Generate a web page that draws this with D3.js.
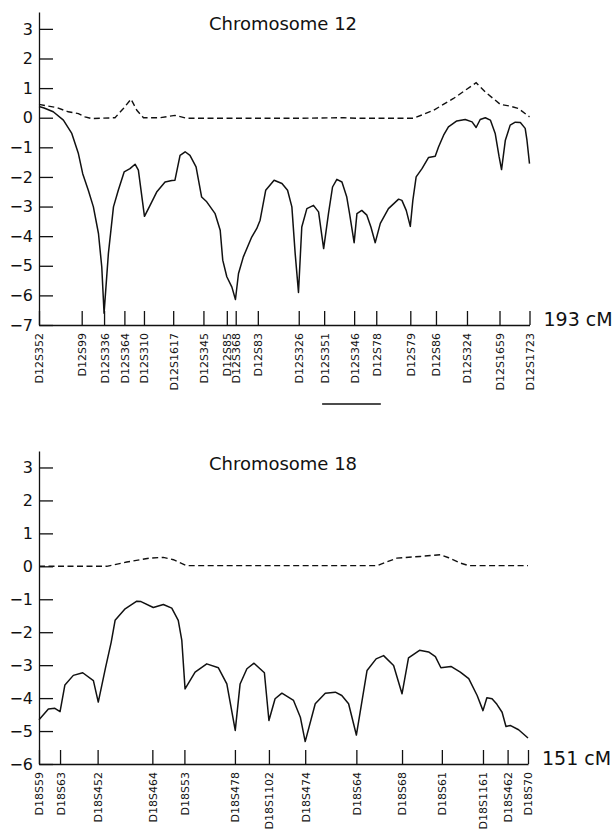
<!DOCTYPE html>
<html>
<head>
<meta charset="utf-8">
<script src="https://cdn.jsdelivr.net/npm/d3@7"></script>
<style>
  body { margin: 0; background: #fff; }
  svg { display: block; font-family: "DejaVu Sans", sans-serif; }
  .axis path, .axis line { stroke: #111; stroke-width: 1.3; }
  .axis text { fill: #111; }
</style>
</head>
<body>
<div id="d3-container"></div>
<script>
/**
 * DATA
 * */
// chromosome 12 markers (position in cM)
const chr12Markers = ["D12S352", "D12S99", "D12S336", "D12S364", "D12S310", "D12S1617", "D12S345",
  "D12S85", "D12S368", "D12S83", "D12S326", "D12S351", "D12S346", "D12S78", "D12S79", "D12S86",
  "D12S324", "D12S1659", "D12S1723"];
const chr12MarkerCM = [0, 16.8, 25.6, 33.6, 41.3, 52.8, 64.7, 73.9, 77.4, 86.1, 102.2, 112.2, 124.0,
  132.7, 146.1, 156.2, 168.4, 181.2, 193];

// solid curve, chromosome 12
const chr12SolidCM = [0, 2, 5.6, 9.6, 12.9, 15.5, 17.2, 19.4, 21.4, 23.4, 24.7, 25.6, 27.3, 29.3, 31.2,
  33.5, 35.8, 37.8, 39.1, 41.5, 43.7, 46.3, 49.6, 52.3, 53.5, 55.5, 57.5, 59.4, 61.8, 64.0, 66.0, 69.3,
  71.3, 72.3, 73.9, 75.9, 77.3, 78.5, 80.4, 83.7, 85.7, 87.0, 89.2, 92.5, 95.6, 97.8, 99.5, 100.8, 102.1,
  103.4, 105.4, 108.0, 110.0, 112.0, 113.9, 115.5, 117.2, 119.2, 121.1, 122.2, 124.0, 125.1, 127.0,
  129.0, 130.6, 132.3, 134.3, 137.5, 141.5, 142.8, 144.5, 146.1, 147.1, 148.4, 150.7, 153.3, 155.9,
  157.2, 159.2, 161.1, 164.4, 167.7, 170.4, 172.0, 173.6, 175.6, 177.6, 179.5, 181.0, 182.0, 183.5,
  185.4, 187.4, 189.4, 191.3, 192.0, 193];
const chr12SolidLod = [0.38, 0.33, 0.2, -0.08, -0.53, -1.21, -1.89, -2.45, -3.01, -3.91, -5.04, -6.6,
  -4.59, -3.01, -2.45, -1.83, -1.72, -1.57, -1.77, -3.33, -2.96, -2.51, -2.17, -2.12, -2.11, -1.27,
  -1.15, -1.27, -1.66, -2.68, -2.84, -3.24, -3.80, -4.81, -5.37, -5.72, -6.14, -5.26, -4.70, -4.03,
  -3.74, -3.46, -2.45, -2.11, -2.22, -2.45, -3.01, -4.59, -5.9, -3.69, -3.07, -2.96, -3.18, -4.42,
  -3.24, -2.34, -2.08, -2.17, -2.68, -3.24, -4.22, -3.24, -3.13, -3.29, -3.69, -4.22, -3.57, -3.07,
  -2.75, -2.79, -3.13, -3.67, -2.79, -2.0, -1.72, -1.34, -1.30, -0.99, -0.59, -0.31, -0.11, -0.06,
  -0.14, -0.33, -0.06, 0.0, -0.08, -0.53, -1.3, -1.75, -0.76, -0.25, -0.15, -0.16, -0.36, -0.76, -1.55];

// dashed curve, chromosome 12
const chr12DashCM = [0, 7, 11.5, 15.5, 18.1, 20.7, 29.9, 33.2, 36.2, 38.5, 41.1, 47.6, 53.5, 58.1,
  100, 120, 125, 147.4, 155.2, 163.1, 172, 175.6, 181.5, 185.4, 188.7, 193];
const chr12DashLod = [0.45, 0.34, 0.2, 0.14, 0.03, -0.03, 0.0, 0.31, 0.63, 0.25, 0.0, 0.0, 0.08, -0.02,
  -0.02, 0.0, -0.02, -0.02, 0.25, 0.65, 1.18, 0.87, 0.45, 0.39, 0.31, 0.03];

// bar under the chromosome 12 labels (cM)
const chr12Region = [111.4, 134.5];

// chromosome 18 markers
const chr18Markers = ["D18S59", "D18S63", "D18S452", "D18S464", "D18S53", "D18S478", "D18S1102",
  "D18S474", "D18S64", "D18S68", "D18S61", "D18S1161", "D18S462", "D18S70"];
const chr18MarkerCM = [0, 6.5, 18.1, 35.0, 44.9, 60.5, 71.0, 82.2, 98.0, 112.1, 124.4, 137.1, 144.7, 151];

const chr18SolidCM = [0, 2.9, 4.9, 6.5, 8.0, 10.6, 13.5, 16.8, 18.3, 20.5, 22.3, 23.5, 26.6, 30.2, 31.5,
  35.3, 38.4, 41.0, 43.0, 44.1, 45.1, 48.2, 51.8, 55.4, 58.0, 60.6, 62.1, 64.2, 66.4, 69.6, 71.0, 72.9,
  75.0, 78.6, 80.7, 82.2, 85.3, 88.4, 91.5, 93.5, 95.6, 98.0, 101.3, 104.1, 106.4, 109.5, 112.1, 114.1,
  117.5, 120.3, 122.4, 124.1, 127.2, 130.1, 132.7, 135.3, 137.1, 138.3, 139.9, 141.4, 143.0, 144.2,
  145.5, 148.1, 151];
const chr18SolidLod = [-4.66, -4.33, -4.31, -4.41, -3.60, -3.31, -3.23, -3.47, -4.12, -3.1, -2.3, -1.64,
  -1.29, -1.06, -1.07, -1.25, -1.16, -1.27, -1.64, -2.25, -3.72, -3.21, -2.96, -3.08, -3.57, -4.98,
  -3.57, -3.11, -2.94, -3.23, -4.68, -4.02, -3.85, -4.07, -4.58, -5.32, -4.17, -3.85, -3.82, -3.92,
  -4.17, -5.12, -3.16, -2.81, -2.71, -3.01, -3.87, -2.78, -2.55, -2.60, -2.74, -3.08, -3.04, -3.21,
  -3.41, -3.92, -4.38, -3.99, -4.02, -4.19, -4.43, -4.86, -4.83, -4.96, -5.21];

const chr18DashCM = [0, 20.9, 27.1, 34.3, 38.4, 41.5, 45.6, 104.4, 110.5, 117.7, 123.9, 126.5, 130.1,
  132.7, 151];
const chr18DashLod = [0, 0, 0.13, 0.25, 0.27, 0.2, 0.02, 0.02, 0.25, 0.30, 0.35, 0.26, 0.1, 0.02, 0.02];

/**
 * CONSTANTS
 * */
const width = 613,
  height = 837;

const svg = d3
  .select("#d3-container")
  .append("svg")
  .attr("width", width)
  .attr("height", height);

// one panel per chromosome
function drawPanel(p) {
  const xScale = d3.scaleLinear().domain([0, p.length]).range([39, p.xEnd]);
  const yScale = d3.scaleLinear().domain([p.yMin, p.yTop]).range([p.axisY, p.topY]);

  const g = svg.append("g");

  // y axis, ticks pointing inward
  const yAxis = d3
    .axisLeft(yScale)
    .tickValues(d3.range(p.yMin, 4))
    .tickSizeInner(-14)
    .tickSizeOuter(0)
    .tickPadding(6)
    .tickFormat(d => (d < 0 ? "\u2212" + Math.abs(d) : d));

  g.append("g")
    .attr("class", "axis y-axis")
    .attr("transform", "translate(39,0)")
    .call(yAxis)
    .call(a => a.selectAll("text").attr("font-size", 16).attr("font-family", "DejaVu Sans"));

  // x axis with marker ticks
  const xAxis = d3
    .axisBottom(xScale)
    .tickValues(p.markerCM)
    .tickSizeInner(-14)
    .tickSizeOuter(0)
    .tickFormat((d, i) => p.markers[i]);

  g.append("g")
    .attr("class", "axis x-axis")
    .attr("transform", `translate(0,${p.axisY})`)
    .call(xAxis)
    .call(a =>
      a
        .selectAll("text")
        .attr("font-size", 11)
        .attr("font-family", "DejaVu Sans")
        .attr("transform", "rotate(-90)")
        .attr("text-anchor", "end")
        .attr("x", -8)
        .attr("y", 0)
        .attr("dy", "0.36em")
    );

  const line = d3
    .line()
    .x(d => xScale(d[0]))
    .y(d => yScale(d[1]));

  g.append("path")
    .datum(d3.zip(p.dashCM, p.dashLod))
    .attr("fill", "none")
    .attr("stroke", "#111")
    .attr("stroke-width", 1.4)
    .attr("stroke-dasharray", "6,3.5")
    .attr("d", line);

  g.append("path")
    .datum(d3.zip(p.solidCM, p.solidLod))
    .attr("fill", "none")
    .attr("stroke", "#111")
    .attr("stroke-width", 1.5)
    .attr("stroke-linejoin", "round")
    .attr("d", line);

  // title
  g.append("text")
    .attr("x", 283)
    .attr("y", p.titleY)
    .attr("text-anchor", "middle")
    .attr("font-size", 18)
    .attr("fill", "#111")
    .text(p.title);

  // map length
  g.append("text")
    .attr("x", p.xEnd + 14)
    .attr("y", p.axisY + 1)
    .attr("font-size", 19)
    .attr("fill", "#111")
    .text(`${p.length} cM`);

  if (p.region) {
    g.append("line")
      .attr("x1", xScale(p.region[0]))
      .attr("x2", xScale(p.region[1]))
      .attr("y1", p.axisY + 79)
      .attr("y2", p.axisY + 79)
      .attr("stroke", "#111")
      .attr("stroke-width", 1.4);
  }
}

drawPanel({
  markers: chr12Markers,
  markerCM: chr12MarkerCM,
  solidCM: chr12SolidCM,
  solidLod: chr12SolidLod,
  dashCM: chr12DashCM,
  dashLod: chr12DashLod,
  region: chr12Region,
  length: 193,
  xEnd: 529.5,
  yMin: -7,
  yTop: 3.57,
  axisY: 325,
  topY: 12,
  title: "Chromosome 12",
  titleY: 30
});

drawPanel({
  markers: chr18Markers,
  markerCM: chr18MarkerCM,
  solidCM: chr18SolidCM,
  solidLod: chr18SolidLod,
  dashCM: chr18DashCM,
  dashLod: chr18DashLod,
  region: null,
  length: 151,
  xEnd: 528,
  yMin: -6,
  yTop: 3.5,
  axisY: 764,
  topY: 451,
  title: "Chromosome 18",
  titleY: 470
});
</script>
</body>
</html>
